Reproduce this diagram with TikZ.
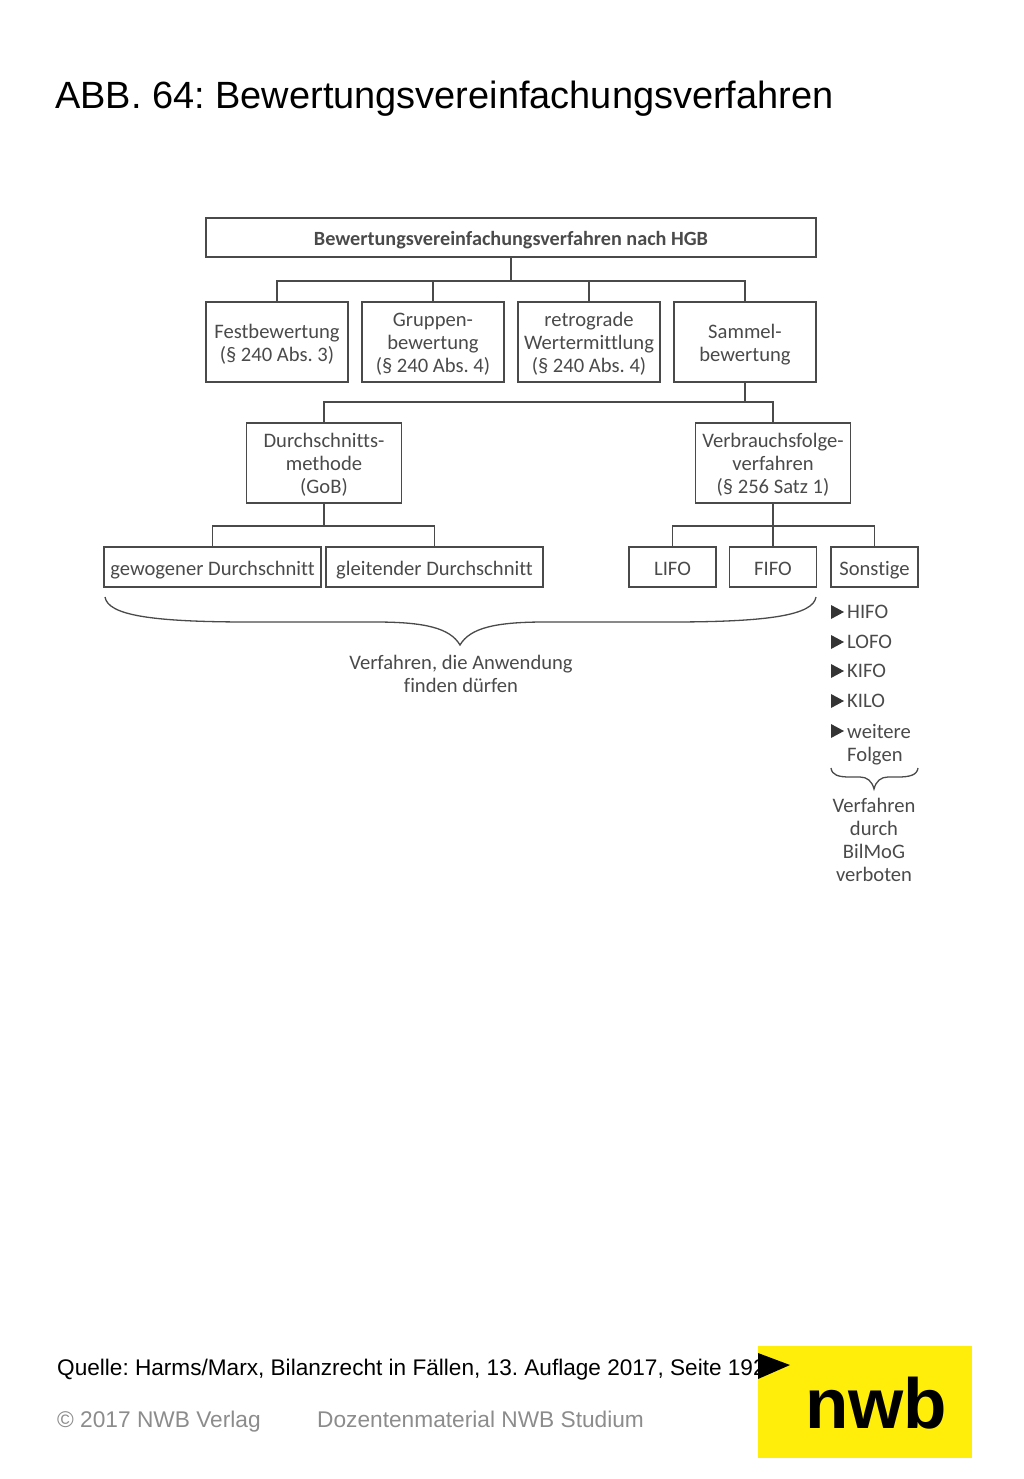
\documentclass[tikz,border=0pt]{standalone}
\usepackage{fontspec}
\setmainfont{Liberation Sans}
\newfontfamily\boxfont[Ligatures=NoCommon]{Carlito}
\definecolor{boxgray}{HTML}{4A4A4A}
\definecolor{footgray}{HTML}{8C8C8C}
\definecolor{nwbyellow}{HTML}{FFED0A}
\tikzset{
  lbl/.style={font=\boxfont\frenchspacing\fontsize{20.6}{23}\selectfont, text=boxgray, align=center},
  bx/.style={lbl, draw=boxgray, line width=1.6pt, inner sep=0pt,
    execute at end node={\rule[-4.5pt]{0pt}{4.5pt}}},
  bxone/.style={bx, minimum height=40pt, execute at begin node={\rule{0pt}{21pt}}},
  bxtwo/.style={bx, minimum height=80pt, execute at begin node={\rule{0pt}{44pt}}},
  bxthree/.style={bx, minimum height=80pt, execute at begin node={\rule{0pt}{65.5pt}}},
  wire/.style={draw=boxgray, line width=1.6pt},
  bracewire/.style={draw=boxgray, line width=1.3pt},
  sonst/.style={lbl, anchor=west, align=left, inner sep=0pt},
  foot/.style={anchor=base west, inner sep=0pt, font=\frenchspacing\fontsize{22.7}{26}\selectfont},
}
\begin{document}
\begin{tikzpicture}[x=1pt,y=-1pt]
      \useasboundingbox (0,0) rectangle (1024,1479);
      \node [anchor=base west, inner sep=0pt, font=\frenchspacing\fontsize{37.95}{44}\selectfont] (titel) at (55,109) {ABB. 64: Bewertungsvereinfachungsverfahren};

      % erste Ebene
      \node [bxone, minimum width=610pt, minimum height=39pt] (haupt) at (511,237.5) {\bfseries\fontsize{20.2}{23}\selectfont Bewertungsvereinfachungsverfahren nach HGB};
      \node [bxtwo, minimum width=142pt] (fest) at (277,342) {Festbewertung\\(§ 240 Abs. 3)};
      \node [bxthree, minimum width=142pt] (gruppe) at (433,342) {Gruppen-\\bewertung\\(§ 240 Abs. 4)};
      \node [bxthree, minimum width=142pt] (retro) at (589,342) {retrograde\\Wertermittlung\\(§ 240 Abs. 4)};
      \node [bxtwo, minimum width=142pt] (sammel) at (745,342) {Sammel-\\bewertung};

      % zweite Ebene
      \node [bxthree, minimum width=155pt] (durch) at (324,463) {Durchschnitts-\\methode\\(GoB)};
      \node [bxthree, minimum width=155pt] (verbrauch) at (773,463) {Verbrauchsfolge-\\verfahren\\(§ 256 Satz 1)};

      % dritte Ebene
      \node [bxone, minimum width=217pt] (gewogen) at (212.5,567) {gewogener Durchschnitt};
      \node [bxone, minimum width=217pt] (gleitend) at (434.5,567) {gleitender Durchschnitt};
      \node [bxone, minimum width=87pt] (lifo) at (672.5,567) {LIFO};
      \node [bxone, minimum width=87pt] (fifo) at (773,567) {FIFO};
      \node [bxone, minimum width=87pt] (sonstige) at (874.5,567) {Sonstige};

      % Verbindungen
      \coordinate (b1) at (511,281);
      \coordinate (b2) at (745,402);
      \coordinate (b3) at (324,526);
      \coordinate (b4) at (773,526);
      \draw[wire] (haupt.south) -- (b1);
      \draw[wire] (fest.north) |- (b1);
      \draw[wire] (gruppe.north) |- (b1);
      \draw[wire] (retro.north) |- (b1);
      \draw[wire] (sammel.north) |- (b1);
      \draw[wire] (sammel.south) -- (b2);
      \draw[wire] (durch.north) |- (b2);
      \draw[wire] (verbrauch.north) |- (b2);
      \draw[wire] (durch.south) -- (b3);
      \draw[wire] (gewogen.north) |- (b3);
      \draw[wire] (gleitend.north) |- (b3);
      \draw[wire] (verbrauch.south) -- (b4);
      \draw[wire] (lifo.north) |- (b4);
      \draw[wire] (fifo.north) -- (b4);
      \draw[wire] (sonstige.north) |- (b4);

      % Klammern
      \draw[bracewire] (105,597) .. controls (108,615) and (150,622) .. (250,622) -- (375,622) .. controls (425,622) and (450,628) .. (460,645) .. controls (470,628) and (495,622) .. (545,622) -- (670,622) .. controls (770,622) and (813,615) .. (816,597);
      \draw[bracewire] (831,768) .. controls (832,775) and (838,777) .. (850,777) -- (860,777) .. controls (867,777) and (872,781) .. (874,789) .. controls (876,781) and (881,777) .. (888,777) -- (898,777) .. controls (910,777) and (917,775) .. (918,768);
      \node [lbl] (erlaubt) at (461,674) {Verfahren, die Anwendung\\finden dürfen};
      \node [lbl] (verboten) at (874,840) {Verfahren\\durch\\BilMoG\\verboten};

      % Aufzaehlung
      \foreach \y/\name/\txt in {612/hifo/HIFO, 642/lofo/LOFO, 671/kifo/KIFO, 701/kilo/KILO} {
        \fill[boxgray!70!black] (831,\y-7) -- (844,\y) -- (831,\y+7) -- cycle;
        \node [sonst] (\name) at (847,\y) {\txt};
      }
      \fill[boxgray!70!black] (831,724) -- (844,731) -- (831,738) -- cycle;
      \node [sonst, anchor=north west] (weitere) at (847,724) {weitere\\Folgen};

      % Fuss
      \node [foot, font=\frenchspacing\fontsize{22.6}{26}\selectfont] (quelle) at (57,1375.5) {Quelle: Harms/Marx, Bilanzrecht in Fällen, 13. Auflage 2017, Seite 192};
      \node [foot, text=footgray] (copy) at (57,1427) {© 2017 NWB Verlag};
      \node [foot, text=footgray] (dozent) at (317,1427) {Dozentenmaterial NWB Studium};
      \fill[nwbyellow] (758,1346) rectangle (972,1458);
      \fill[black] (758,1353) -- (790,1365) -- (758,1379) -- cycle;
      \node [anchor=base, inner sep=0pt, font=\bfseries\fontsize{71}{75}\selectfont] (logo) at (876,1428) {nwb};
    \end{tikzpicture}
\end{document}
